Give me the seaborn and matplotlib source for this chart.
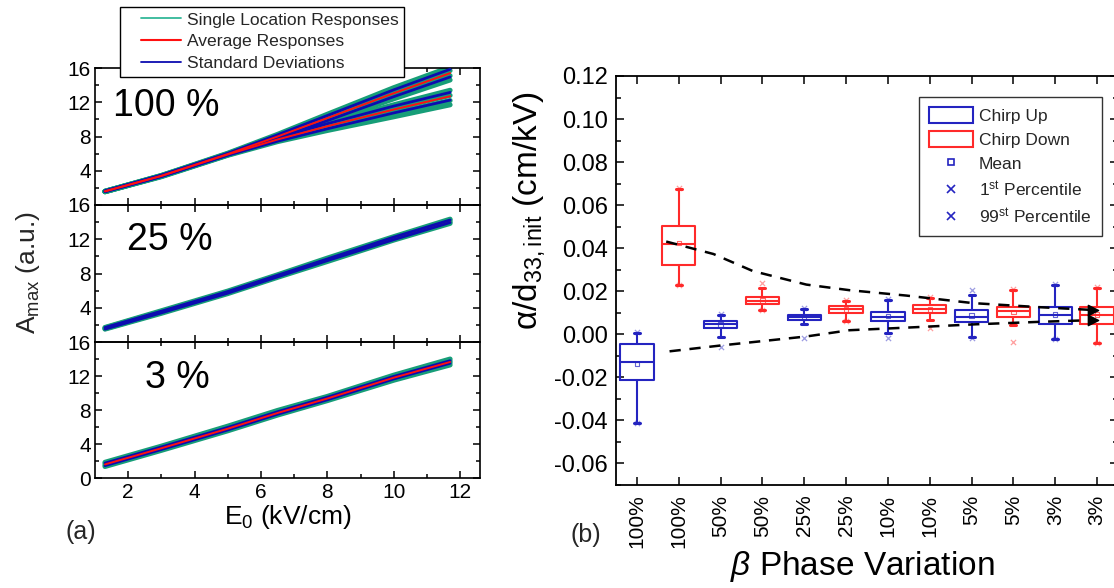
import numpy as np
import pandas as pd
import matplotlib
matplotlib.use("Agg")
import matplotlib.pyplot as plt
from matplotlib.patches import Patch
from matplotlib.lines import Line2D
from matplotlib.legend_handler import HandlerLine2D
from matplotlib.ticker import MultipleLocator, FixedLocator, FormatStrFormatter
import seaborn as sns

sns.set_theme(style="ticks")
plt.rcParams['font.family'] = ['Liberation Sans', 'DejaVu Sans']
plt.rcParams['mathtext.fontset'] = 'custom'
plt.rcParams['mathtext.rm'] = 'Liberation Sans'
plt.rcParams['mathtext.it'] = 'Liberation Sans:italic'
plt.rcParams['mathtext.bf'] = 'Liberation Sans:bold'
plt.rcParams['axes.unicode_minus'] = False

# ---------------- data: panel (a) ----------------
E0 = [1.3, 3.0, 5.0, 6.5, 8.0, 10.0, 11.7]

# 100 %
single_100 = [
    [1.60, 3.45, 6.05, 8.25, 10.60, 13.70, 16.10],
    [1.60, 3.40, 6.00, 8.10, 10.30, 13.30, 15.70],
    [1.55, 3.40, 5.90, 7.95, 10.00, 12.80, 15.10],
    [1.55, 3.35, 5.85, 7.80, 9.70, 12.40, 14.60],
    [1.60, 3.45, 5.95, 7.85, 9.60, 11.70, 13.40],
    [1.60, 3.40, 5.90, 7.70, 9.25, 11.20, 12.80],
    [1.55, 3.35, 5.85, 7.55, 8.95, 10.70, 12.20],
    [1.55, 3.30, 5.80, 7.40, 8.70, 10.30, 11.70],
]
avg_100 = [
    [1.60, 3.40, 5.95, 8.00, 10.15, 13.05, 15.40],
    [1.60, 3.40, 5.90, 7.65, 9.20, 11.15, 12.70],
]
std_100 = [
    [1.65, 3.48, 6.05, 8.20, 10.45, 13.45, 15.85],
    [1.55, 3.32, 5.85, 7.80, 9.85, 12.65, 14.95],
    [1.65, 3.48, 6.00, 7.85, 9.50, 11.55, 13.15],
    [1.55, 3.32, 5.80, 7.45, 8.90, 10.75, 12.25],
]

# 25 %
single_25 = [
    [1.70, 3.65, 5.95, 7.85, 9.80, 12.30, 14.35],
    [1.65, 3.55, 5.85, 7.75, 9.65, 12.15, 14.20],
    [1.55, 3.45, 5.75, 7.65, 9.55, 12.05, 14.00],
    [1.50, 3.35, 5.65, 7.55, 9.40, 11.90, 13.85],
]
avg_25 = [[1.60, 3.50, 5.80, 7.70, 9.60, 12.10, 14.10]]
std_25 = [
    [1.70, 3.60, 5.90, 7.80, 9.70, 12.25, 14.25],
    [1.50, 3.40, 5.70, 7.60, 9.50, 11.95, 13.95],
]

# 3 %
single_3 = [
    [1.85, 3.75, 6.10, 7.95, 9.60, 12.10, 14.00],
    [1.70, 3.60, 5.90, 7.75, 9.45, 11.90, 13.75],
    [1.50, 3.40, 5.70, 7.55, 9.25, 11.70, 13.55],
    [1.35, 3.25, 5.55, 7.40, 9.10, 11.50, 13.30],
]
avg_3 = [[1.60, 3.50, 5.80, 7.65, 9.35, 11.80, 13.65]]
std_3 = [
    [1.75, 3.65, 5.95, 7.80, 9.50, 11.95, 13.80],
    [1.45, 3.35, 5.65, 7.50, 9.20, 11.65, 13.50],
]

panel_names = ["100 %", "25 %", "3 %"]

# ---------------- data: panel (b) ----------------
categories = ['100%', '100%', '50%', '50%', '25%', '25%',
              '10%', '10%', '5%', '5%', '3%', '3%']
chirp = ['up', 'down'] * 6
q1 = [-0.0213, 0.0323, 0.0028, 0.0142, 0.0066, 0.0100,
      0.0060, 0.0098, 0.0055, 0.0082, 0.0046, 0.0046]
q3 = [-0.0047, 0.0504, 0.0063, 0.0173, 0.0090, 0.0130,
      0.0104, 0.0134, 0.0113, 0.0126, 0.0126, 0.0126]
median = [-0.0129, 0.0419, 0.0046, 0.0157, 0.0079, 0.0117,
          0.0082, 0.0117, 0.0082, 0.0106, 0.0090, 0.0090]
whisk_lo = [-0.0411, 0.0227, -0.0013, 0.0113, 0.0046, 0.0061,
            0.0008, 0.0066, -0.0013, 0.0043, -0.0020, -0.0039]
whisk_hi = [0.0006, 0.0675, 0.0090, 0.0213, 0.0117, 0.0155,
            0.0161, 0.0170, 0.0184, 0.0205, 0.0231, 0.0216]
mean = [-0.0139, 0.0425, 0.0046, 0.0157, 0.0078, 0.0116,
        0.0084, 0.0115, 0.0088, 0.0104, 0.0092, 0.0092]
pct1 = [-0.0411, 0.0227, -0.0057, 0.0113, -0.0016, 0.0061,
        -0.0016, 0.0031, -0.0015, -0.0036, -0.0022, -0.0042]
pct99 = [0.0010, 0.0680, 0.0095, 0.0240, 0.0120, 0.0160,
         0.0165, 0.0175, 0.0208, 0.0210, 0.0235, 0.0220]

upper_pos = [0.70, 1.83, 2.77, 4.05, 5.08, 6.44, 8.03, 9.63, 10.90]
upper_val = [0.0431, 0.0373, 0.0294, 0.0231, 0.0205, 0.0180, 0.0145, 0.0126, 0.0113]
lower_pos = [0.78, 2.00, 4.05, 5.08, 6.44, 8.03, 9.63, 10.90]
lower_val = [-0.0079, -0.0052, -0.0010, 0.0019, 0.0031, 0.0046, 0.0058, 0.0066]

# ---------------- styles ----------------
GREEN = '#179e78'
GREEN_LEG = '#33b898'
RED = '#ff1010'
BLUE = '#0c0cb0'
BOX_BLUE = '#2424c0'
BOX_RED = '#ff2a2a'

W, H = 1114, 588
fig = plt.figure(figsize=(W / 100, H / 100), dpi=100)
fig.patch.set_facecolor('white')


def px_axes(left, right, top, bottom):
    return fig.add_axes([left / W, 1 - bottom / H, (right - left) / W, (bottom - top) / H])


ax1 = px_axes(95, 480, 68, 205)
ax2 = px_axes(95, 480, 205, 342)
ax3 = px_axes(95, 480, 342, 478)


def long_df(lines, kind):
    rows = []
    for i, vals in enumerate(lines):
        for x, y in zip(E0, vals):
            rows.append({'E0': x, 'A': y, 'line': f'{kind}{i}'})
    return pd.DataFrame(rows)


panels = [
    (ax1, single_100, avg_100, std_100, True),
    (ax2, single_25, avg_25, std_25, False),
    (ax3, single_3, avg_3, std_3, True),
]
for ax, sing, avg, std, red_top in panels:
    sns.lineplot(data=long_df(sing, 's'), x='E0', y='A', units='line', estimator=None,
                 color=GREEN, lw=3.6, ax=ax, zorder=2)
    sns.lineplot(data=long_df(std, 'd'), x='E0', y='A', units='line', estimator=None,
                 color=BLUE, lw=2.0, ax=ax, zorder=3)
    sns.lineplot(data=long_df(avg, 'a'), x='E0', y='A', units='line', estimator=None,
                 color=RED, lw=1.4, ax=ax, zorder=4 if red_top else 2.5)

label_pos = [(0.185, 0.72), (0.195, 0.745), (0.215, 0.735)]
for i, ax in enumerate([ax1, ax2, ax3]):
    ax.set_xlim(1.0, 12.6)
    ax.set_ylim(0, 16)
    ax.xaxis.set_major_locator(FixedLocator([2, 4, 6, 8, 10, 12]))
    ax.xaxis.set_minor_locator(FixedLocator([3, 5, 7, 9, 11]))
    if i < 2:
        ax.yaxis.set_major_locator(FixedLocator([4, 8, 12, 16]))
        ax.set_xticklabels([])
    else:
        ax.yaxis.set_major_locator(FixedLocator([0, 4, 8, 12, 16]))
    ax.yaxis.set_minor_locator(FixedLocator([2, 6, 10, 14]))
    ax.tick_params(which='both', direction='in', top=True, right=True, labelsize=15,
                   width=1.1, colors='black')
    ax.tick_params(which='major', length=5)
    ax.tick_params(which='minor', length=3)
    ax.tick_params(axis='y', pad=3)
    ax.set_xlabel('')
    ax.set_ylabel('')
    for s in ax.spines.values():
        s.set_linewidth(1.2)
        s.set_color('black')
    ax.set_facecolor('none')
    ax.text(*label_pos[i], panel_names[i], transform=ax.transAxes, fontsize=27,
            ha='center', va='center', color='black')

ax3.set_xlabel(r'E$_{\mathregular{0}}$ (kV/cm)', fontsize=19, color='black')
ax3.xaxis.set_label_coords(0.501, -0.29)
ax3.xaxis.label.set_va('center')

fig.text(28 / W, 1 - 273 / H, r'A$_{\mathregular{max}}$ (a.u.)', rotation=90,
         fontsize=19, ha='center', va='center')
fig.text(81 / W, 1 - 532 / H, '(a)', fontsize=18, ha='center', va='center')

leg_handles_a = [Line2D([], [], color=GREEN_LEG, lw=1.3),
                 Line2D([], [], color=RED, lw=1.5),
                 Line2D([], [], color=BLUE, lw=1.3)]
leg_a = ax1.legend(
    handles=leg_handles_a,
    labels=['Single Location Responses', 'Average Responses', 'Standard Deviations'],
    handler_map={h: HandlerLine2D(xpad=0.9) for h in leg_handles_a},
    loc='upper left', bbox_to_anchor=(0.065, 1.445), borderaxespad=0,
    fontsize=12.6, frameon=True, fancybox=False, edgecolor='black', framealpha=1,
    handlelength=3.2, handletextpad=0.3, labelspacing=0.38, borderpad=0.3)
leg_a.get_frame().set_linewidth(1.0)
leg_a.set_zorder(10)

# ---------------- panel (b) ----------------
axR = px_axes(616, 1118, 76, 485)
positions = np.arange(len(categories))
df_b = pd.DataFrame({'pos': positions, 'cat': categories, 'chirp': chirp,
                     'q1': q1, 'q3': q3, 'med': median, 'lo': whisk_lo,
                     'hi': whisk_hi, 'mean': mean, 'p1': pct1, 'p99': pct99})

for kind, col in [('up', BOX_BLUE), ('down', BOX_RED)]:
    sub = df_b[df_b.chirp == kind]
    stats = [dict(med=r.med, q1=r.q1, q3=r.q3, whislo=r.lo, whishi=r.hi, fliers=[])
             for r in sub.itertuples()]
    axR.bxp(stats, positions=sub.pos.tolist(), widths=0.8, capwidths=0.14,
            showfliers=False, manage_ticks=False,
            boxprops=dict(color=col, lw=1.5),
            medianprops=dict(color=col, lw=1.5),
            whiskerprops=dict(color=col, lw=1.5),
            capprops=dict(color=col, lw=2.2))
    axR.scatter(sub.pos, sub['mean'], marker='s', s=10, facecolors='none',
                edgecolors=col, linewidths=0.8, alpha=0.7, zorder=5)
    axR.scatter(sub.pos, sub.p1, marker='x', s=14, color=col, linewidths=0.9,
                alpha=0.45, zorder=5)
    axR.scatter(sub.pos, sub.p99, marker='x', s=14, color=col, linewidths=0.9,
                alpha=0.45, zorder=5)

sns.lineplot(x=upper_pos, y=upper_val, color='black', lw=1.8, ax=axR,
             linestyle=(0, (4.5, 3.5)), zorder=6)
sns.lineplot(x=lower_pos, y=lower_val, color='black', lw=1.8, ax=axR,
             linestyle=(0, (4.5, 3.5)), zorder=6)
axR.scatter([upper_pos[-1], lower_pos[-1]], [upper_val[-1], lower_val[-1]],
            marker='>', s=55, color='black', zorder=7)

axR.set_xlim(-0.5, 11.5)
axR.set_ylim(-0.07, 0.12)
axR.set_xticks(positions)
axR.set_xticklabels(categories, rotation=90, fontsize=15)
axR.yaxis.set_major_locator(MultipleLocator(0.02))
axR.yaxis.set_minor_locator(MultipleLocator(0.01))
axR.yaxis.set_major_formatter(FormatStrFormatter('%.2f'))
axR.tick_params(which='both', direction='in', top=True, right=True, width=1.1,
                colors='black')
axR.tick_params(which='major', length=6)
axR.tick_params(which='minor', length=3.5)
axR.tick_params(axis='y', labelsize=17, pad=6)
axR.tick_params(axis='x', pad=7)
axR.tick_params(axis='x', which='minor', top=False, bottom=False)
for s in axR.spines.values():
    s.set_linewidth(1.3)
    s.set_color('black')
axR.set_facecolor('none')

axR.set_ylabel(r'α/d$_{\mathregular{33,init}}$ (cm/kV)', fontsize=24, color='black')
axR.yaxis.set_label_coords(-0.173, 0.672)
axR.yaxis.label.set_va('center')
axR.set_xlabel(r'$\beta$ Phase Variation', fontsize=24, color='black')
axR.xaxis.set_label_coords(0.49, -0.2)
axR.xaxis.label.set_va('center')

fig.text(586 / W, 1 - 535 / H, '(b)', fontsize=18, ha='center', va='center')

leg_b = axR.legend(
    handles=[Patch(facecolor='white', edgecolor=BOX_BLUE, lw=1.5),
             Patch(facecolor='white', edgecolor=BOX_RED, lw=1.5),
             Line2D([], [], ls='none', marker='s', ms=4, mfc='none', mec=BOX_BLUE, mew=1.2),
             Line2D([], [], ls='none', marker='x', ms=6, color=BOX_BLUE, mew=1.2),
             Line2D([], [], ls='none', marker='x', ms=6, color=BOX_BLUE, mew=1.2)],
    labels=['Chirp Up', 'Chirp Down', 'Mean',
            r'1$^{\mathregular{st}}$ Percentile', r'99$^{\mathregular{st}}$ Percentile'],
    loc='upper left', bbox_to_anchor=(0.6036, 0.949), borderaxespad=0,
    fontsize=12.5, frameon=True, fancybox=False, edgecolor='#333333', framealpha=1,
    handlelength=2.5, handleheight=1.0, handletextpad=0.35, labelspacing=0.42,
    borderpad=0.6)
leg_b.get_frame().set_linewidth(1.0)

fig.savefig('out.png', dpi=100, facecolor='white')
